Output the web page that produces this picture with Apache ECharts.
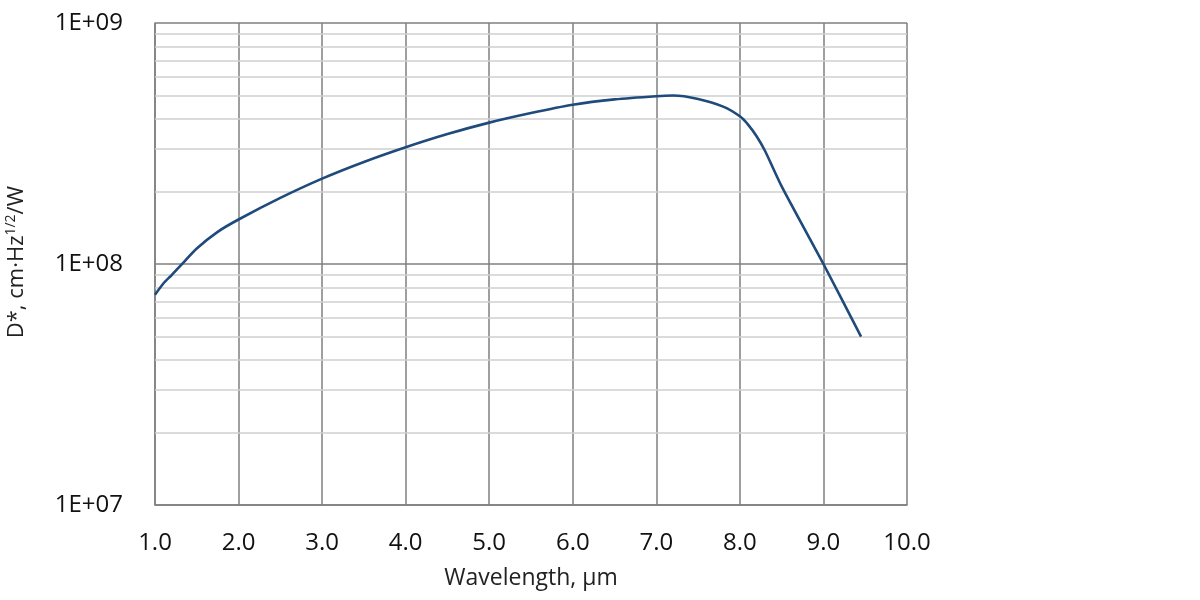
<!DOCTYPE html>
<html>
<head>
<meta charset="utf-8">
<script src="https://cdn.jsdelivr.net/npm/echarts@6/dist/echarts.min.js"></script>
<style>
html,body{margin:0;padding:0;background:#fff;}
#chart{width:1200px;height:600px;}
</style>
</head>
<body>
<div id="chart"></div>
<script>
var wavelength = [1.0, 1.1, 1.2, 1.3, 1.5, 1.75, 2.0, 2.5, 3.0, 3.5, 4.0, 4.5, 5.0, 5.5, 6.0, 6.5, 7.0, 7.2, 7.5, 7.8, 8.0, 8.1, 8.2, 8.3, 8.5, 9.0, 9.45];
var dstar = [7.45e7, 8.3e7, 9.0e7, 9.8e7, 1.16e8, 1.36e8, 1.53e8, 1.88e8, 2.26e8, 2.65e8, 3.05e8, 3.46e8, 3.86e8, 4.23e8, 4.58e8, 4.82e8, 4.97e8, 5.0e8, 4.84e8, 4.5e8, 4.1e8, 3.78e8, 3.39e8, 2.95e8, 2.1e8, 1.0e8, 5.0e7];
var minorGridValues = [2e7, 3e7, 4e7, 5e7, 6e7, 7e7, 8e7, 9e7, 2e8, 3e8, 4e8, 5e8, 6e8, 7e8, 8e8, 9e8];
var yTickLabels = {1e7: '1E+07', 1e8: '1E+08', 1e9: '1E+09'};

var FONT = '"Open Sans", "Noto Sans", sans-serif';
var MAJOR = '#7f7f7f';
var MINOR = '#cfcfcf';

var chart = echarts.init(document.getElementById('chart'), null, {renderer: 'canvas'});
chart.setOption({
  animation: false,
  backgroundColor: '#ffffff',
  grid: {left: 155, right: 293, top: 23, bottom: 95, containLabel: false},
  xAxis: {
    type: 'value', min: 1, max: 10, interval: 1,
    name: 'Wavelength, μm', nameLocation: 'middle', nameGap: 62,
    nameTextStyle: {fontFamily: FONT, fontSize: 23, color: '#222'},
    axisLine: {show: true, lineStyle: {color: MAJOR, width: 1.5}},
    axisTick: {show: false},
    axisLabel: {fontFamily: FONT, fontSize: 24, color: '#111', margin: 26,
      formatter: function (v) { return v.toFixed(1); }},
    splitLine: {show: true, lineStyle: {color: MAJOR, width: 1.5}}
  },
  yAxis: {
    type: 'log', logBase: 10, min: 1e7, max: 1e9,
    axisLine: {show: true, lineStyle: {color: MAJOR, width: 1.5}},
    axisTick: {show: false},
    axisLabel: {fontFamily: FONT, fontSize: 24, color: '#111', margin: 32,
      formatter: function (v) { return yTickLabels[Math.round(v)] || ''; }},
    splitLine: {show: true, lineStyle: {color: MAJOR, width: 1.5}}
  },
  graphic: [{
    type: 'text', left: 4, top: 186, rotation: Math.PI / 2,
    style: {
      text: '{n|D*, cm·Hz}{s|1/2}{n|/W}',
      rich: {
        n: {fontFamily: FONT, fontSize: 22, fill: '#222'},
        s: {fontFamily: FONT, fontSize: 14, fill: '#222', padding: [0, 0, 12, 0]}
      }
    }
  }],
  series: [{
    type: 'line', z: 1, silent: true, data: [],
    markLine: {
      silent: true, symbol: 'none', label: {show: false},
      lineStyle: {color: MINOR, width: 1.5, type: 'solid'},
      data: minorGridValues.map(function (v) { return {yAxis: v}; })
    }
  }, {
    type: 'line', z: 5,
    data: wavelength.map(function (x, i) { return [x, dstar[i]]; }),
    smooth: 0.25,
    showSymbol: false,
    lineStyle: {color: '#1f4a7c', width: 2.6}
  }]
});
</script>
</body>
</html>
